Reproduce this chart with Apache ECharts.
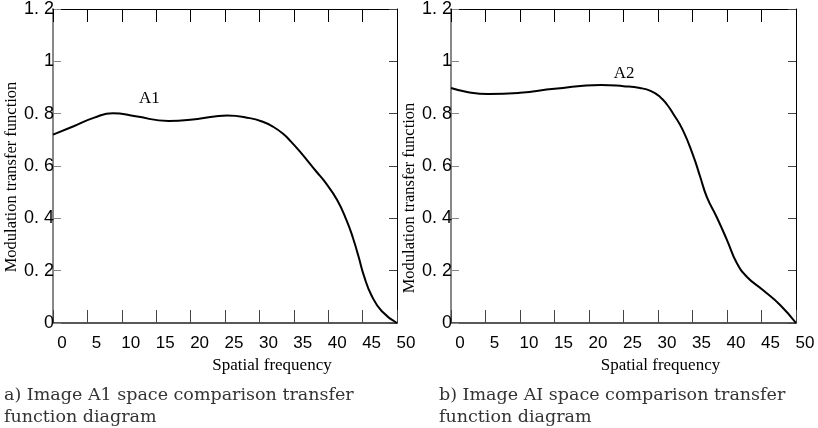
<!DOCTYPE html>
<html>
<head>
<meta charset="utf-8">
<script src="https://cdn.jsdelivr.net/npm/echarts@6/dist/echarts.min.js"></script>
<style>
  html, body { margin: 0; padding: 0; background: #fff; }
  #chart { width: 818px; height: 428px; }
</style>
</head>
<body>
<div id="chart"></div>
<script>
// spatial frequency / MTF readings for the two curves
const freqA1 = [0, 3, 6, 8.7, 12, 16.8, 21, 25.3, 28.6, 30.5, 32, 33.4, 34.6, 35.9, 38.3, 39.5, 41.3, 42.7, 43.6, 44.4, 45.2, 46.3, 47.8, 50];
const mtfA1 = [0.72, 0.752, 0.785, 0.802, 0.79, 0.772, 0.78, 0.793, 0.783, 0.769, 0.75, 0.724, 0.693, 0.655, 0.578, 0.54, 0.47, 0.39, 0.325, 0.255, 0.18, 0.105, 0.045, 0];

const freqA2 = [0, 2.5, 5.4, 10, 15, 21.7, 25, 27.4, 29, 30.3, 31.3, 32.2, 33.6, 35.1, 36.1, 37.1, 38.5, 40, 41.4, 42.9, 45.2, 47.7, 50];
const mtfA2 = [0.898, 0.882, 0.875, 0.88, 0.895, 0.91, 0.905, 0.898, 0.886, 0.864, 0.835, 0.8, 0.737, 0.64, 0.56, 0.48, 0.405, 0.317, 0.23, 0.176, 0.126, 0.069, 0];

const curveNames = ['A1', 'A2'];
const labelPos = [[14, 0.856], [25.1, 0.955]];
const captions = [
  'a) Image A1 space comparison transfer\nfunction diagram',
  'b) Image AI space comparison transfer\nfunction diagram'
];
const xName = 'Spatial frequency';
const yName = 'Modulation transfer function';

const chart = echarts.init(document.getElementById('chart'));

// formats 1.2 -> "1. 2", 1 -> "1"
function yFmt(v) {
  let s = (Math.round(v * 10) / 10).toFixed(1);
  if (s.endsWith('.0')) s = s.slice(0, -2);
  return s.replace('.', '. ');
}

const grids = [
  { left: 53, right: 421, top: 9, bottom: 105, outerBoundsMode: 'none' },
  { left: 451, right: 22, top: 9, bottom: 105, outerBoundsMode: 'none' }
];
const nameShift = [94, 74];
const yNamePad = [22, 64];
const yNameGap = [33, 26];

const xAxes = [];
const yAxes = [];
const series = [];
[0, 1].forEach(i => {
  xAxes.push({
    gridIndex: i, type: 'value', min: 0, max: 50, interval: 5, position: 'bottom',
    name: xName, nameLocation: 'middle', nameGap: 31,
    nameTextStyle: { fontFamily: 'Liberation Serif', fontSize: 17, color: '#000', padding: [0, 0, 0, nameShift[i]] },
    axisLine: { show: true, onZero: false, lineStyle: { color: '#222', width: 1.5 } },
    axisTick: { show: true, inside: true, length: 13, lineStyle: { color: '#444' } },
    axisLabel: { margin: 12, fontFamily: 'Liberation Sans', fontSize: 17, color: '#000',
      padding: [0, 0, 0, 18], showMinLabel: true, showMaxLabel: true, hideOverlap: false },
    splitLine: { show: false }
  });
  xAxes.push({
    gridIndex: i, type: 'value', min: 0, max: 50, interval: 5, position: 'top',
    axisLine: { show: true, onZero: false, lineStyle: { color: '#000', width: 1 } },
    axisTick: { show: true, inside: true, length: 13, lineStyle: { color: '#000' } },
    axisLabel: { show: false },
    splitLine: { show: false }
  });
  yAxes.push({
    gridIndex: i, type: 'value', min: 0, max: 1.2, interval: 0.2, position: 'left',
    name: yName, nameLocation: 'middle', nameGap: yNameGap[i],
    nameTextStyle: { fontFamily: 'Liberation Serif', fontSize: 16.5, color: '#000', padding: [0, yNamePad[i], 0, 0] },
    axisLine: { show: true, onZero: false, lineStyle: { color: '#888', width: 2 } },
    axisTick: { show: true, inside: true, length: 8, lineStyle: { color: '#888' } },
    axisLabel: { margin: -1, fontFamily: 'Liberation Sans', fontSize: 18, color: '#000',
      padding: [6, 0, 0, 0], formatter: yFmt, showMinLabel: true, showMaxLabel: true },
    splitLine: { show: false }
  });
  yAxes.push({
    gridIndex: i, type: 'value', min: 0, max: 1.2, interval: 0.2, position: 'right',
    axisLine: { show: true, onZero: false, lineStyle: { color: '#000', width: 1 } },
    axisTick: { show: true, inside: true, length: 8, lineStyle: { color: '#444' } },
    axisLabel: { show: false },
    splitLine: { show: false }
  });
});

const freqs = [freqA1, freqA2];
const mtfs = [mtfA1, mtfA2];
[0, 1].forEach(i => {
  series.push({
    type: 'line', name: curveNames[i],
    xAxisIndex: i * 2, yAxisIndex: i * 2,
    data: freqs[i].map((f, k) => [f, mtfs[i][k]]),
    smooth: 0.5, showSymbol: false, symbol: 'none',
    lineStyle: { color: '#000', width: 2 },
    markPoint: {
      symbol: 'circle', symbolSize: 1, itemStyle: { color: 'transparent' },
      label: { show: true, position: 'inside', formatter: curveNames[i],
        fontFamily: 'Liberation Serif', fontSize: 17, color: '#000' },
      data: [{ coord: labelPos[i] }]
    }
  });
});

chart.setOption({
  animation: false,
  backgroundColor: '#fff',
  title: [
    { text: captions[0], left: 4, top: 384, padding: 0,
      textStyle: { fontFamily: 'DejaVu Serif', fontWeight: 'normal', fontSize: 17.5, color: '#333', lineHeight: 22 } },
    { text: captions[1], left: 439, top: 384, padding: 0,
      textStyle: { fontFamily: 'DejaVu Serif', fontWeight: 'normal', fontSize: 17.5, color: '#333', lineHeight: 22 } }
  ],
  grid: grids,
  xAxis: xAxes,
  yAxis: yAxes,
  series: series
});
</script>
</body>
</html>
